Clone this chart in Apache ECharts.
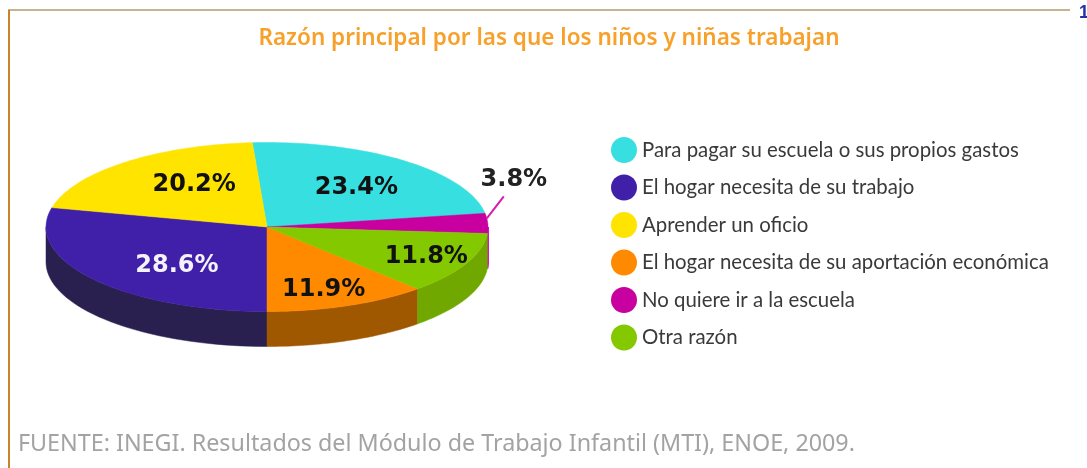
<!DOCTYPE html>
<html lang="es">
<head>
  <meta charset="UTF-8">
  <title>Razón principal por las que los niños y niñas trabajan</title>
  <script src="https://cdn.jsdelivr.net/npm/echarts@6/dist/echarts.min.js"></script>
  <style>
    html, body { margin: 0; padding: 0; background: #fff; }
    #chart { width: 1087px; height: 468px; }
  </style>
</head>
<body>
<div id="chart"></div>
<script>
  // legend order
  const categories = [
    'Para pagar su escuela o sus propios gastos',
    'El hogar necesita de su trabajo',
    'Aprender un oficio',
    'El hogar necesita de su aportación económica',
    'No quiere ir a la escuela',
    'Otra razón'
  ];
  const shares = [23.4, 28.6, 20.2, 11.9, 3.8, 11.8];
  const shareLabels = ['23.4%', '28.6%', '20.2%', '11.9%', '3.8%', '11.8%'];
  // order of the slices clockwise round the pie, as indexes into categories
  const sliceOrder = [0, 4, 5, 3, 1, 2];

  const topColors = ['#38dfe0', '#4020a8', '#ffe400', '#ff8a00', '#c800a0', '#84c800'];
  const sideColors = ['#2bb5b6', '#2a2050', '#c9b400', '#a05800', '#d814b4', '#70a800'];
  const labelColors = ['#111', '#f4f2fb', '#111', '#111', '#222', '#111'];

  // pie geometry in pixels
  const cx = 267, cy = 227, rx = 221, ry = 84.5, depth = 35;
  const startAngle = -3.8; // degrees clockwise from 12 o'clock

  // label position as a fraction of the radius along the slice's mid angle (x, y)
  const labelPull = [[0.65, 0.62], [0.52, 0.71], [0.51, 0.69], [0.7, 0.77], [1.118, 0], [0.8, 0.76]];

  // shares add up to 99.7, the pie still has to close
  const total = 360 / shares.reduce(function (a, b) { return a + b; }, 0);
  const sliceStart = {};
  let running = startAngle;
  sliceOrder.forEach(function (i) {
    sliceStart[i] = running;
    running += shares[i] * total;
  });

  function edgePoint(deg, fx, fy) {
    const a = deg * Math.PI / 180;
    return [cx + rx * (fx === undefined ? 1 : fx) * Math.sin(a),
            cy - ry * (fy === undefined ? 1 : fy) * Math.cos(a)];
  }

  function renderSlice(params, api) {
    const i = params.seriesIndex;
    const from = sliceStart[i];
    const to = from + api.value(0) * total;
    const mid = (from + to) / 2;
    const children = [];

    // the side wall only shows on the front half of the pie
    const wallFrom = Math.max(from, 90), wallTo = Math.min(to, 270);
    if (wallTo > wallFrom) {
      const upper = [], lower = [];
      for (let d = wallFrom; d <= wallTo + 0.001; d += (wallTo - wallFrom) / 40) {
        const p = edgePoint(d);
        upper.push(p);
        lower.unshift([p[0], p[1] + depth]);
      }
      children.push({
        type: 'polygon',
        shape: { points: upper.concat(lower) },
        style: { fill: sideColors[i], stroke: sideColors[i], lineWidth: i === 4 ? 2 : 0.5 }
      });
    }

    const top = [[cx, cy]];
    for (let d = from; d <= to + 0.001; d += (to - from) / 60) {
      top.push(edgePoint(d));
    }
    children.push({
      type: 'polygon',
      shape: { points: top },
      style: { fill: topColors[i], stroke: topColors[i], lineWidth: 0.5 }
    });

    const pull = labelPull[i];
    let at = edgePoint(mid, pull[0], pull[1]);
    if (i === 4) {
      // smallest slice: label sits outside with a leader line
      const leaderFrom = edgePoint(mid);
      at = [at[0], cy - 49];
      children.push({
        type: 'line',
        shape: { x1: leaderFrom[0] - 1, y1: leaderFrom[1] - 5, x2: leaderFrom[0] + 16, y2: leaderFrom[1] - 27 },
        style: { stroke: '#d81cb0', lineWidth: 2 }
      });
    }
    children.push({
      type: 'text',
      z2: 10,
      style: {
        x: at[0], y: at[1] + 2,
        text: shareLabels[i],
        align: 'center', verticalAlign: 'middle',
        font: 'bold 24px "DejaVu Sans"',
        fill: labelColors[i]
      }
    });
    return { type: 'group', children: children };
  }

  const chart = echarts.init(document.getElementById('chart'), null, { renderer: 'canvas' });

  chart.setOption({
    animation: false,
    backgroundColor: '#ffffff',
    title: [{
      text: 'Razón principal por las que los niños y niñas trabajan',
      left: 549, top: 27, padding: 0, textAlign: 'center',
      textStyle: { color: '#f7a12b', fontSize: 22.5, fontWeight: 600, fontFamily: 'Noto Sans' }
    }, {
      text: 'FUENTE: INEGI. Resultados del Módulo de Trabajo Infantil (MTI), ENOE, 2009.',
      left: 18, top: 433, padding: 0,
      textStyle: { color: '#a3a3a3', fontSize: 23.3, fontWeight: 'normal', fontFamily: 'Noto Sans' }
    }],
    legend: {
      data: categories,
      orient: 'vertical',
      left: 611, top: 137,
      padding: 0,
      icon: 'circle',
      itemWidth: 26, itemHeight: 26, itemGap: 11.5,
      selectedMode: false,
      textStyle: { color: '#3a3a3a', fontSize: 20.4, fontFamily: 'Lato' }
    },
    graphic: [
      { type: 'line', shape: { x1: 8, y1: 10, x2: 1070, y2: 10 }, style: { stroke: '#c4b491', lineWidth: 2 } },
      { type: 'line', shape: { x1: 9, y1: 10, x2: 9, y2: 468 }, style: { stroke: '#c8842a', lineWidth: 2 } },
      { type: 'text', x: 1079, y: 4, style: { text: '1', font: 'bold 18px "Liberation Sans"', fill: '#2233aa' } }
    ],
    series: categories.map(function (name, i) {
      return {
        type: 'custom',
        name: name,
        coordinateSystem: 'none',
        silent: true,
        itemStyle: { color: topColors[i] },
        renderItem: renderSlice,
        data: [[shares[i]]]
      };
    })
  });
</script>
</body>
</html>
